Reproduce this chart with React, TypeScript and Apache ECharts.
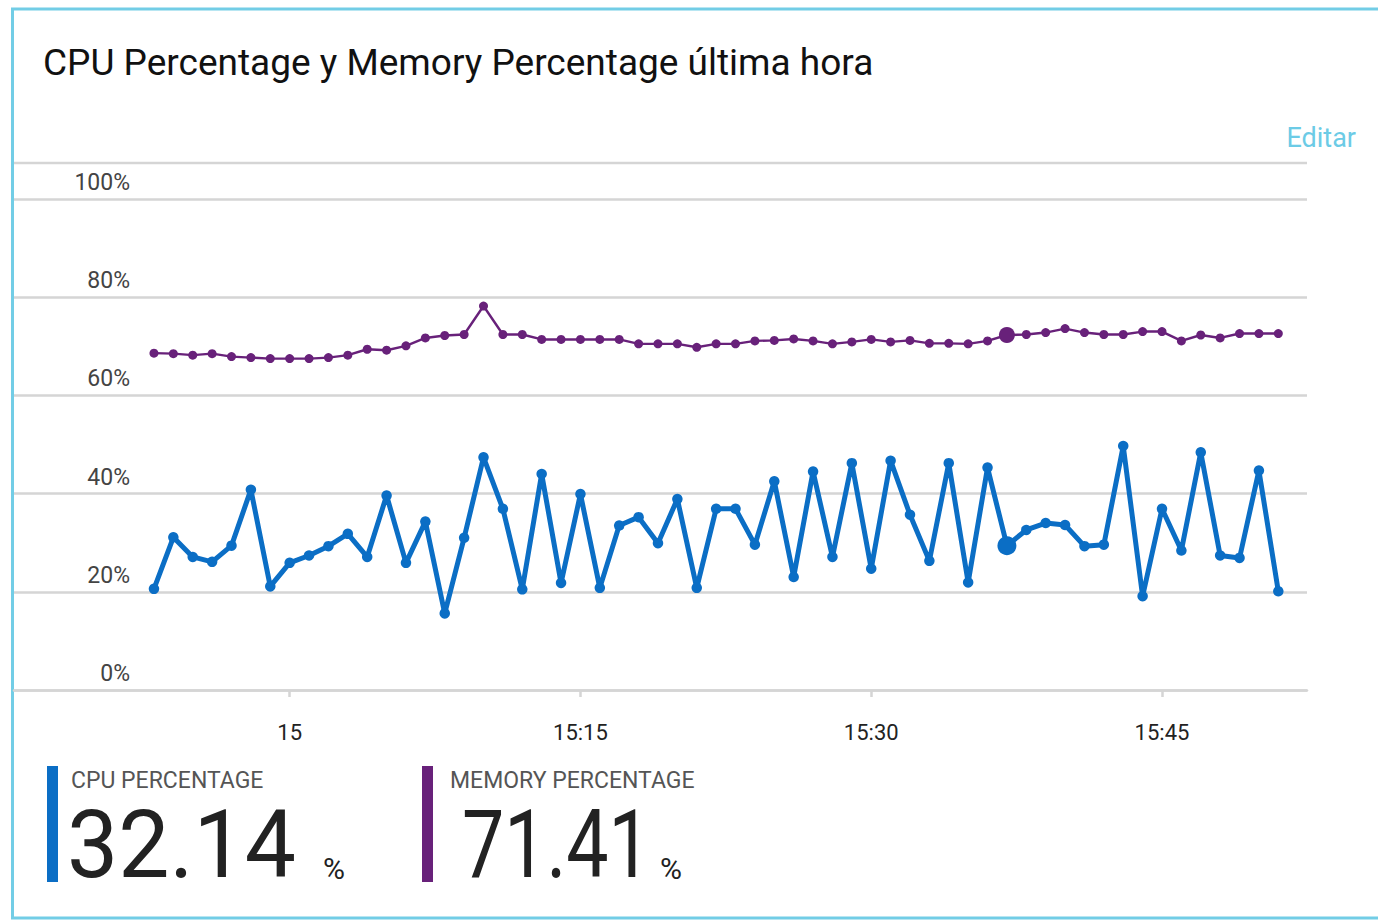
import React, { useEffect, useRef } from 'react';
import * as echarts from 'echarts';

const times = [
  '14:53', '14:54', '14:55', '14:56', '14:57', '14:58', '14:59', '15:00', '15:01', '15:02',
  '15:03', '15:04', '15:05', '15:06', '15:07', '15:08', '15:09', '15:10', '15:11', '15:12',
  '15:13', '15:14', '15:15', '15:16', '15:17', '15:18', '15:19', '15:20', '15:21', '15:22',
  '15:23', '15:24', '15:25', '15:26', '15:27', '15:28', '15:29', '15:30', '15:31', '15:32',
  '15:33', '15:34', '15:35', '15:36', '15:37', '15:38', '15:39', '15:40', '15:41', '15:42',
  '15:43', '15:44', '15:45', '15:46', '15:47', '15:48', '15:49', '15:50', '15:51',
];

const cpuPercent = [
  20.6, 31.1, 27.1, 26.1, 29.4, 40.8, 21.1, 25.9, 27.4, 29.3,
  31.8, 27.1, 39.6, 25.9, 34.3, 15.6, 31.0, 47.4, 36.9, 20.5,
  44.0, 21.8, 39.9, 20.8, 33.5, 35.2, 29.9, 38.9, 20.8, 36.9,
  36.9, 29.6, 42.5, 23.0, 44.5, 27.1, 46.2, 24.7, 46.7, 35.7,
  26.3, 46.2, 21.9, 45.3, 29.4, 32.6, 34.0, 33.6, 29.3, 29.6,
  49.7, 19.1, 36.9, 28.4, 48.4, 27.4, 26.9, 44.7, 20.1,
];

const memoryPercent = [
  68.6, 68.5, 68.2, 68.5, 67.9, 67.7, 67.5, 67.5, 67.5, 67.7,
  68.2, 69.4, 69.2, 70.1, 71.7, 72.2, 72.4, 78.2, 72.4, 72.4,
  71.4, 71.4, 71.4, 71.4, 71.4, 70.5, 70.5, 70.5, 69.8, 70.5,
  70.5, 71.1, 71.2, 71.5, 71.1, 70.5, 70.9, 71.4, 70.9, 71.2,
  70.6, 70.6, 70.5, 71.1, 72.3, 72.4, 72.8, 73.6, 72.8, 72.4,
  72.4, 73.0, 73.0, 71.1, 72.3, 71.7, 72.6, 72.6, 72.6,
];

const highlightIndex = 44;

const xTickValues = [0, 15, 30, 45];
const xTickLabels = ['15', '15:15', '15:30', '15:45'];

const summaryLabels = ['CPU PERCENTAGE', 'MEMORY PERCENTAGE'];
const summaryValues = ['32.14', '71.41'];

const titleText = 'CPU Percentage y Memory Percentage última hora';
const editText = 'Editar';

const CPU_COLOR = '#0b6ec5';
const MEM_COLOR = '#68217a';
const GRID_COLOR = '#d5d5d5';
const BORDER_COLOR = '#72cde6';
const FONT = 'Roboto, "Noto Sans", sans-serif';

const toMinutes = (t: string) => {
  const [h, m] = t.split(':').map(Number);
  return (h - 15) * 60 + m;
};

export default function App() {
  const ref = useRef<HTMLDivElement>(null);

  useEffect(() => {
    if (!ref.current) return;
    const chart = echarts.init(ref.current, undefined, { renderer: 'svg' });

    const buildData = (vals: number[], normal: number, big: number) =>
      times.map((t, i) => ({
        value: [toMinutes(t), vals[i]],
        symbolSize: i === highlightIndex ? big : normal,
      }));

    const summaryBlock = (
      idx: number, barX: number, textX: number, valueX: number, valueScale: number, unitX: number, color: string,
    ) => [
      { type: 'rect', shape: { x: barX, y: 766, width: 11, height: 116 }, style: { fill: color } },
      {
        type: 'text', x: textX, y: 780,
        style: { text: summaryLabels[idx], fill: '#555', font: `23px ${FONT}`, verticalAlign: 'middle', align: 'left' },
      },
      {
        type: 'text', x: valueX, y: 845, scaleX: valueScale,
        style: { text: summaryValues[idx], fill: '#222', font: `94px ${FONT}`, verticalAlign: 'middle', align: 'left' },
      },
      {
        type: 'text', x: unitX, y: 868,
        style: { text: '%', fill: '#222', font: `30px ${FONT}`, verticalAlign: 'middle', align: 'left' },
      },
    ];

    chart.setOption({
      animation: false,
      backgroundColor: '#ffffff',
      grid: { left: 14, right: 71, top: 199, bottom: 231 },
      xAxis: {
        type: 'value',
        min: -14.22,
        max: 52.48,
        axisLine: { show: true, lineStyle: { color: GRID_COLOR, width: 2.5 } },
        axisTick: { show: true, customValues: xTickValues, length: 7, lineStyle: { color: GRID_COLOR, width: 2.5 } },
        axisLabel: {
          customValues: xTickValues,
          formatter: (v: number) => {
            const k = xTickValues.indexOf(v);
            return k >= 0 ? xTickLabels[k] : '';
          },
          color: '#222',
          fontSize: 22,
          fontFamily: FONT,
          margin: 31,
        },
        splitLine: { show: false },
      },
      yAxis: {
        type: 'value',
        min: 0,
        max: 100,
        interval: 20,
        axisLine: { show: false },
        axisTick: { show: false },
        axisLabel: {
          formatter: '{value}%',
          color: '#444',
          fontSize: 23,
          fontFamily: FONT,
          margin: -116,
          align: 'right',
          verticalAlign: 'bottom',
          padding: [0, 0, 5, 0],
        },
        splitLine: { lineStyle: { color: GRID_COLOR, width: 2.5 } },
      },
      series: [
        {
          type: 'line',
          name: 'Memory Percentage',
          data: buildData(memoryPercent, 9, 16),
          symbol: 'circle',
          showSymbol: true,
          lineStyle: { color: MEM_COLOR, width: 2.4, join: 'round', cap: 'round' },
          itemStyle: { color: MEM_COLOR },
          z: 3,
        },
        {
          type: 'line',
          name: 'CPU Percentage',
          data: buildData(cpuPercent, 10.5, 19),
          symbol: 'circle',
          showSymbol: true,
          lineStyle: { color: CPU_COLOR, width: 5, join: 'round', cap: 'round' },
          itemStyle: { color: CPU_COLOR },
          z: 4,
        },
      ],
      graphic: [
        {
          type: 'rect',
          shape: { x: 12.5, y: 9, width: 1400, height: 909 },
          style: { fill: 'none', stroke: BORDER_COLOR, lineWidth: 3 },
          silent: true,
        },
        {
          type: 'line',
          shape: { x1: 14, y1: 163, x2: 1307, y2: 163 },
          style: { stroke: GRID_COLOR, lineWidth: 2.5 },
        },
        {
          type: 'text', x: 43, y: 62,
          style: { text: titleText, fill: '#111', font: `37px ${FONT}`, verticalAlign: 'middle', align: 'left' },
        },
        {
          type: 'text', x: 1356, y: 138,
          style: { text: editText, fill: '#6ccbe6', font: `27px ${FONT}`, verticalAlign: 'middle', align: 'right' },
        },
        ...summaryBlock(0, 47, 71, 67, 0.97, 323, CPU_COLOR),
        ...summaryBlock(1, 422, 450, 462, 0.8, 660, MEM_COLOR),
      ],
    });

    return () => chart.dispose();
  }, []);

  return <div ref={ref} style={{ position: 'fixed', left: 0, top: 0, width: 1378, height: 921 }} />;
}
